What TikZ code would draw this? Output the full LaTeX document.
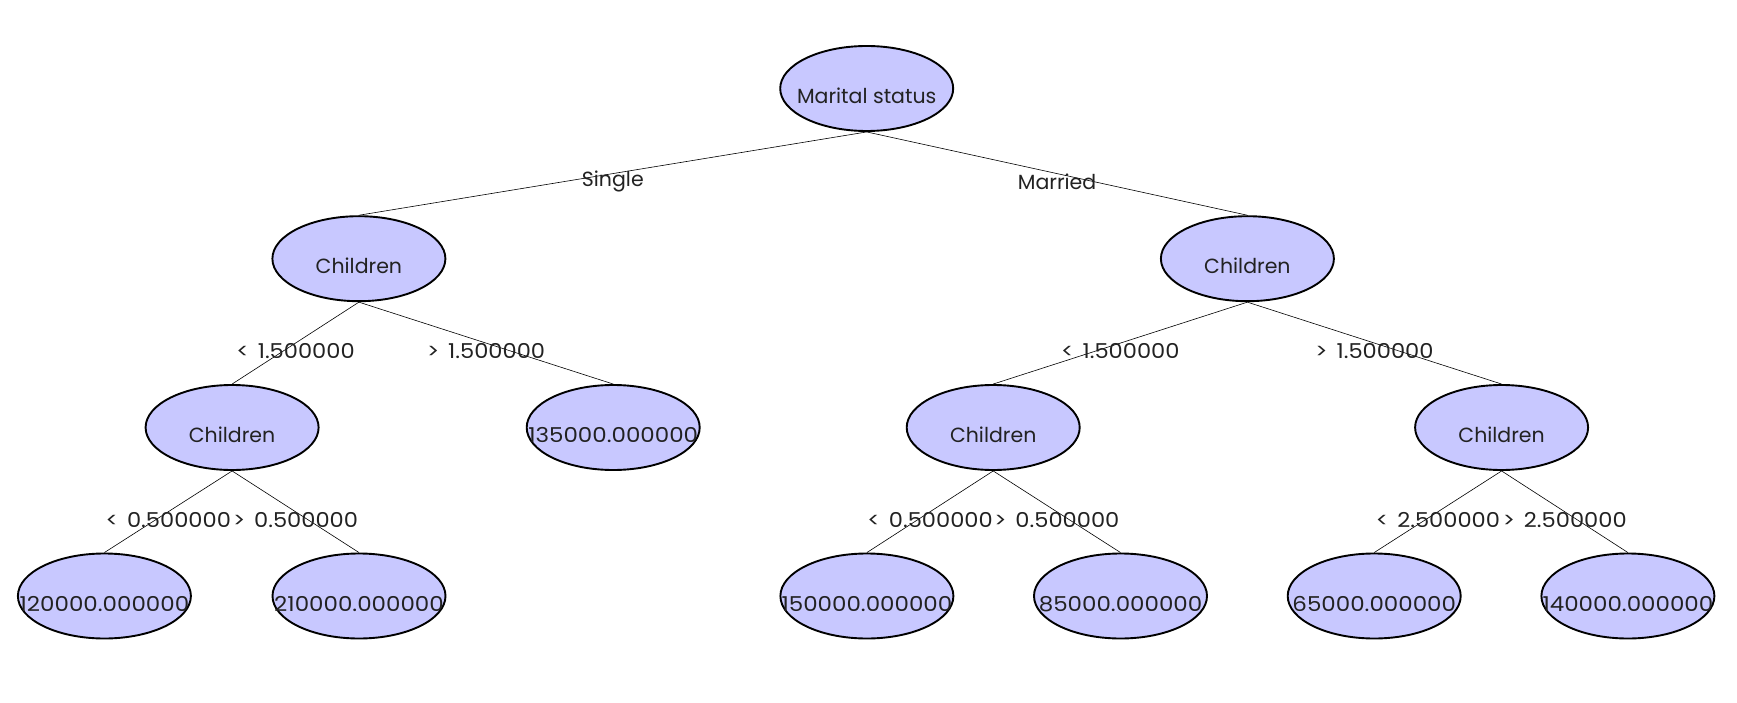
\documentclass[tikz,border=0pt]{standalone}
\usepackage{fontspec}
\usepackage{graphicx}
\setmainfont{Poppins}
\usetikzlibrary{shapes.geometric}
\definecolor{nodefill}{RGB}{200,200,255}
\definecolor{txt}{RGB}{34,34,34}
\newcommand{\lbl}[1]{\makebox[0pt]{#1}}
\newcommand{\numlbl}[1]{\makebox[0pt]{\scalebox{1.12}[1]{#1}}}
\newcommand{\cond}[2]{\scalebox{1.1}[1]{#1\hspace{0.4em}#2}}
\begin{document}
\begin{tikzpicture}[x=1pt,y=-1pt,
  tnode/.style={ellipse, draw=black, line width=1.9pt, fill=nodefill,
    minimum width=173pt, minimum height=85pt, inner sep=0pt,
    text height=30pt, text depth=0pt, text=txt,
    font=\fontsize{20.5pt}{24pt}\selectfont},
  conn/.style={draw=black, line width=0.6pt},
  elabel/.style={midway, anchor=north, inner sep=0pt, text=txt,
    font=\fontsize{20.5pt}{24pt}\selectfont}]
\path[use as bounding box] (0,0) rectangle (1737,703);
% nodes
\node[tnode] (root) at (866.7,88.5) {\lbl{Marital status}};
\node[tnode] (s) at (358.9,258.7) {\lbl{Children}};
\node[tnode] (m) at (1247.4,258.7) {\lbl{Children}};
\node[tnode] (sa) at (232.1,427.5) {\lbl{Children}};
\node[tnode] (sb) at (613.2,427.5) {\numlbl{135000.000000}};
\node[tnode] (ma) at (993.2,427.5) {\lbl{Children}};
\node[tnode] (mb) at (1501.6,427.5) {\lbl{Children}};
\node[tnode] (saa) at (104.4,596) {\numlbl{120000.000000}};
\node[tnode] (sab) at (359,596) {\numlbl{210000.000000}};
\node[tnode] (maa) at (866.9,596) {\numlbl{150000.000000}};
\node[tnode] (mab) at (1120.5,596) {\numlbl{85000.000000}};
\node[tnode] (mba) at (1374.2,596) {\numlbl{65000.000000}};
\node[tnode] (mbb) at (1627.9,596) {\numlbl{140000.000000}};
% connectors
\draw[conn] (root.south) -- node[elabel, yshift=3pt] {Single} (s.north);
\draw[conn] (root.south) -- node[elabel] {Married} (m.north);
\draw[conn] (s.south) -- node[elabel] {\cond{<}{1.500000}} (sa.north);
\draw[conn] (s.south) -- node[elabel] {\cond{>}{1.500000}} (sb.north);
\draw[conn] (m.south) -- node[elabel] {\cond{<}{1.500000}} (ma.north);
\draw[conn] (m.south) -- node[elabel] {\cond{>}{1.500000}} (mb.north);
\draw[conn] (sa.south) -- node[elabel] {\cond{<}{0.500000}} (saa.north);
\draw[conn] (sa.south) -- node[elabel] {\cond{>}{0.500000}} (sab.north);
\draw[conn] (ma.south) -- node[elabel] {\cond{<}{0.500000}} (maa.north);
\draw[conn] (ma.south) -- node[elabel] {\cond{>}{0.500000}} (mab.north);
\draw[conn] (mb.south) -- node[elabel] {\cond{<}{2.500000}} (mba.north);
\draw[conn] (mb.south) -- node[elabel] {\cond{>}{2.500000}} (mbb.north);
\end{tikzpicture}
\end{document}
